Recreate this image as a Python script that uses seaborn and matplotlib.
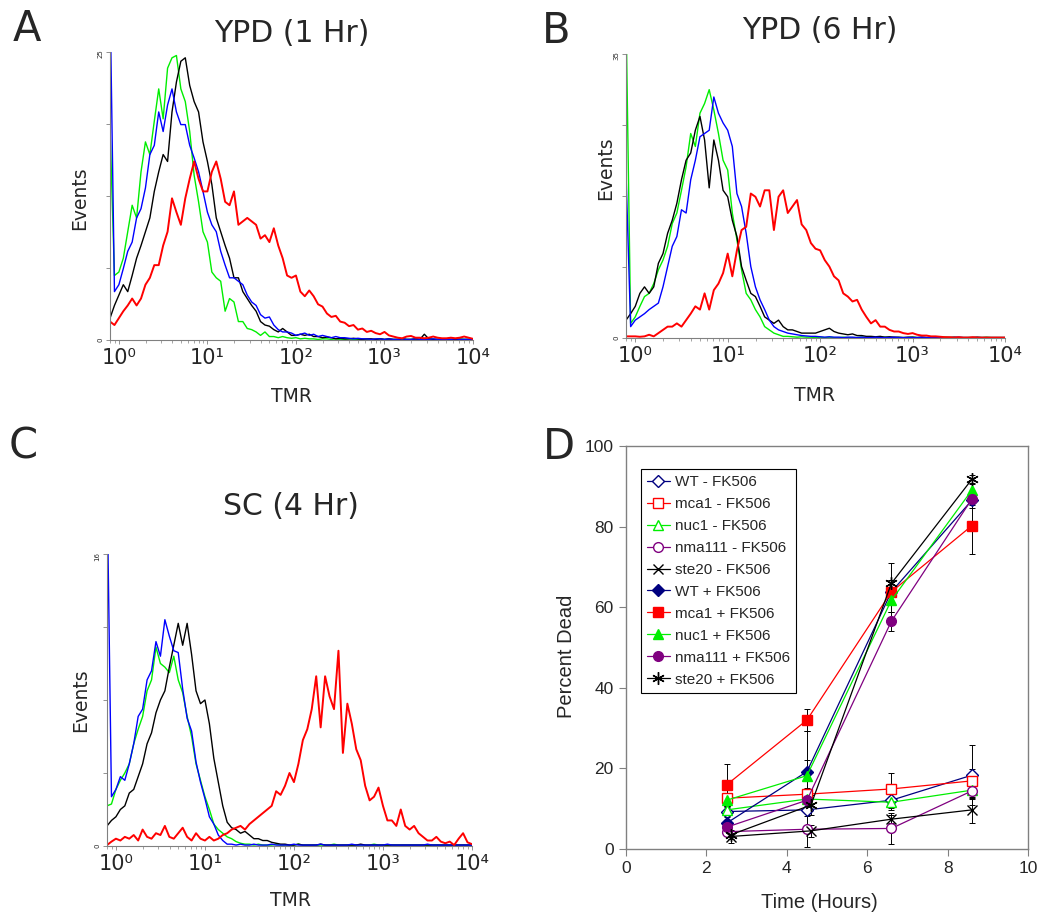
import matplotlib
matplotlib.use("Agg")
import matplotlib.pyplot as plt
import seaborn as sns

sns.set_style("white")
plt.rcParams["font.family"] = ["DejaVu Sans"]

# flow channels, log10(TMR) from -0.1 to 4.0 in 0.05 steps
tmr_log = [round(-0.1 + 0.05 * i, 2) for i in range(83)]
tmr = [10 ** v for v in tmr_log]

# ---- panel A: YPD (1 Hr) ----
a_green = [18.4, 5.6, 5.9, 7.1, 9.4, 11.7, 10.6, 14.6, 17.2, 16.1,
           19.0, 21.8, 19.2, 23.6, 24.5, 24.7, 21.8, 20.7, 18.1, 14.3,
           12.0, 9.4, 8.5, 5.9, 5.4, 5.1, 2.5, 3.6, 3.3, 1.6,
           1.6, 1.0, 0.9, 0.7, 0.4, 0.7, 0.3, 0.3, 0.2, 0.3,
           0.2, 0.15, 0.2, 0.1, 0.15, 0.1, 0.1, 0.05, 0.1, 0.1,
           0.05, 0.1, 0.05, 0.05, 0.1, 0.05, 0.05, 0.1, 0.05, 0.05,
           0.05, 0.1, 0.05, 0.05, 0.05, 0.05, 0.1, 0.05, 0.05, 0.05,
           0.05, 0.05, 0.1, 0.05, 0.05, 0.05, 0.05, 0.05, 0.05, 0.1,
           0.05, 0.05, 0.05]
a_blue = [30, 4.2, 4.8, 6.2, 7.7, 8.5, 10.6, 11.4, 13.2, 16.1,
          16.9, 19.8, 18.1, 20.4, 21.8, 19.8, 18.7, 18.7, 16.9, 15.8,
          14.6, 12.9, 11.1, 10.0, 9.4, 7.7, 6.5, 5.4, 5.4, 5.1,
          4.8, 3.9, 3.3, 3.0, 2.2, 1.9, 2.0, 1.3, 0.9, 0.7,
          0.7, 0.6, 0.4, 0.5, 0.6, 0.4, 0.5, 0.3, 0.4, 0.3,
          0.2, 0.3, 0.2, 0.2, 0.15, 0.1, 0.15, 0.1, 0.1, 0.05,
          0.1, 0.1, 0.05, 0.1, 0.05, 0.05, 0.1, 0.05, 0.05, 0.1,
          0.05, 0.05, 0.05, 0.1, 0.05, 0.05, 0.05, 0.05, 0.1, 0.05,
          0.05, 0.05, 0.05]
a_black = [1.9, 3.0, 3.9, 4.8, 4.2, 5.6, 7.1, 8.2, 9.4, 10.6,
           12.9, 14.6, 16.1, 15.5, 19.8, 22.4, 24.2, 24.5, 22.1, 20.7,
           19.8, 17.2, 15.5, 13.5, 10.6, 9.4, 8.2, 7.1, 5.4, 5.4,
           4.2, 3.6, 3.0, 2.5, 1.6, 1.3, 1.2, 0.9, 0.7, 1.0,
           0.7, 0.4, 0.4, 0.5, 0.4, 0.5, 0.3, 0.3, 0.2, 0.25,
           0.2, 0.1, 0.15, 0.1, 0.1, 0.15, 0.1, 0.05, 0.1, 0.1,
           0.05, 0.1, 0.05, 0.1, 0.05, 0.05, 0.1, 0.05, 0.05, 0.1,
           0.05, 0.5, 0.1, 0.05, 0.05, 0.05, 0.1, 0.05, 0.05, 0.05,
           0.05, 0.05, 0.05]
a_red = [1.6, 1.3, 1.9, 2.5, 3.0, 3.6, 3.0, 3.6, 4.8, 5.4,
         6.5, 6.5, 8.2, 9.4, 12.3, 11.1, 10.0, 12.3, 14.0, 15.5,
         14.0, 12.9, 12.9, 14.6, 15.5, 14.0, 12.0, 11.7, 12.9, 10.0,
         10.3, 10.6, 10.3, 10.0, 8.8, 9.1, 8.5, 9.7, 8.2, 7.1,
         5.6, 5.4, 5.6, 4.2, 3.8, 4.3, 3.8, 3.1, 2.9, 2.3,
         2.0, 2.1, 1.6, 1.5, 1.2, 1.3, 0.9, 1.0, 0.7, 0.8,
         0.6, 0.5, 0.7, 0.4, 0.3, 0.2, 0.15, 0.3, 0.35, 0.2,
         0.2, 0.15, 0.2, 0.3, 0.2, 0.15, 0.15, 0.2, 0.15, 0.2,
         0.3, 0.2, 0.1]

# ---- panel B: YPD (6 Hr) ----
b_green = [40, 1.8, 2.6, 3.9, 5.1, 5.5, 6.7, 8.4, 9.6, 11.3,
           14.1, 15.4, 18.2, 21.1, 25.2, 23.6, 27.7, 28.9, 30.6, 28.1,
           25.2, 21.9, 20.7, 15.4, 12.1, 8.4, 5.5, 4.7, 3.5, 2.6,
           1.4, 1.0, 0.6, 0.4, 0.2, 0.2, 0.15, 0.1, 0.15, 0.1,
           0.1, 0.05, 0.1, 0.05, 0.1, 0.05, 0.05, 0.1, 0.05, 0.05,
           0.05, 0.1, 0.05, 0.05, 0.05, 0.05, 0.1, 0.05, 0.05, 0.05,
           0.05, 0.05, 0.1, 0.05, 0.05, 0.05, 0.05, 0.05, 0.05, 0.1,
           0.05, 0.05, 0.05, 0.05, 0.05, 0.05, 0.05, 0.05, 0.1, 0.05,
           0.05, 0.05, 0.05]
b_blue = [20.3, 1.4, 2.2, 2.6, 3.0, 3.5, 3.9, 4.3, 6.3, 8.8,
          11.3, 12.5, 15.8, 15.4, 19.5, 21.9, 24.8, 25.2, 25.6, 29.7,
          27.7, 26.5, 25.6, 23.6, 17.8, 16.2, 12.9, 8.8, 6.3, 4.7,
          3.5, 2.2, 1.4, 1.0, 0.8, 0.6, 0.5, 0.4, 0.3, 0.25,
          0.2, 0.2, 0.15, 0.1, 0.15, 0.1, 0.1, 0.05, 0.1, 0.1,
          0.05, 0.1, 0.05, 0.05, 0.1, 0.05, 0.05, 0.05, 0.1, 0.05,
          0.05, 0.05, 0.05, 0.05, 0.1, 0.05, 0.05, 0.05, 0.05, 0.05,
          0.05, 0.05, 0.1, 0.05, 0.05, 0.05, 0.05, 0.05, 0.05, 0.05,
          0.05, 0.05, 0.05]
b_black = [2.2, 3.0, 3.9, 5.5, 6.3, 5.5, 6.3, 9.2, 10.4, 12.9,
           14.5, 16.6, 19.5, 21.9, 22.8, 25.6, 27.3, 24.4, 18.5, 24.4,
           21.9, 18.2, 17.4, 14.5, 12.5, 8.8, 7.1, 5.5, 5.1, 3.9,
           2.6, 2.2, 1.8, 2.2, 1.4, 1.0, 1.0, 0.8, 0.6, 0.6,
           0.6, 0.6, 0.8, 1.0, 1.2, 0.8, 0.6, 0.5, 0.4, 0.5,
           0.3, 0.3, 0.2, 0.2, 0.15, 0.2, 0.1, 0.15, 0.1, 0.1,
           0.05, 0.1, 0.1, 0.05, 0.1, 0.05, 0.05, 0.1, 0.05, 0.05,
           0.05, 0.1, 0.05, 0.05, 0.05, 0.05, 0.1, 0.05, 0.05, 0.05,
           0.05, 0.05, 0.05]
b_red = [0.2, 0.2, 0.2, 0.15, 0.2, 0.4, 0.2, 0.6, 1.0, 1.4,
         1.4, 1.8, 1.4, 2.2, 3.0, 3.9, 3.5, 5.5, 3.5, 5.9,
         6.7, 8.0, 10.4, 7.6, 10.8, 13.3, 13.7, 17.8, 17.4, 16.2,
         18.2, 18.2, 13.3, 17.4, 18.2, 15.4, 16.2, 17.0, 14.0, 13.3,
         11.7, 11.0, 10.8, 9.6, 8.8, 7.6, 7.1, 5.5, 5.1, 4.5,
         4.7, 3.5, 2.6, 1.8, 2.2, 1.4, 1.4, 1.0, 0.8, 0.8,
         0.6, 0.5, 0.6, 0.4, 0.3, 0.3, 0.2, 0.2, 0.15, 0.1,
         0.1, 0.05, 0.1, 0.05, 0.05, 0.1, 0.05, 0.05, 0.05, 0.05,
         0.05, 0.05, 0.05]

# ---- panel C: SC (4 Hr) ----
c_blue = [20, 2.7, 3.1, 3.8, 3.6, 4.5, 5.6, 7.1, 7.5, 9.1,
          9.6, 11.2, 10.4, 12.4, 11.5, 10.7, 10.6, 8.6, 7.0, 6.3,
          4.6, 3.5, 2.6, 1.6, 1.2, 0.6, 0.3, 0.1, 0.1, 0.05,
          0.1, 0.05, 0.05, 0.1, 0.05, 0.05, 0.05, 0.1, 0.05, 0.05,
          0.05, 0.05, 0.1, 0.05, 0.05, 0.05, 0.05, 0.05, 0.1, 0.05,
          0.05, 0.05, 0.05, 0.05, 0.05, 0.1, 0.05, 0.05, 0.05, 0.05,
          0.05, 0.05, 0.05, 0.1, 0.05, 0.05, 0.05, 0.05, 0.05, 0.05,
          0.05, 0.05, 0.1, 0.05, 0.05, 0.05, 0.05, 0.05, 0.05, 0.05,
          0.05, 0.05, 0.05]
c_green = [2.2, 2.3, 3.1, 3.6, 4.0, 4.5, 5.6, 6.4, 7.1, 8.5,
           9.1, 10.9, 10.0, 9.8, 9.5, 10.4, 9.1, 8.4, 7.1, 6.0,
           4.5, 3.6, 2.7, 2.0, 1.2, 0.9, 0.7, 0.5, 0.4, 0.24,
           0.15, 0.1, 0.1, 0.05, 0.1, 0.05, 0.05, 0.05, 0.1, 0.05,
           0.05, 0.05, 0.05, 0.1, 0.05, 0.05, 0.05, 0.05, 0.05, 0.05,
           0.05, 0.1, 0.05, 0.05, 0.05, 0.05, 0.05, 0.05, 0.05, 0.05,
           0.1, 0.05, 0.05, 0.05, 0.05, 0.05, 0.05, 0.05, 0.05, 0.05,
           0.05, 0.05, 0.05, 0.05, 0.05, 0.05, 0.05, 0.05, 0.05, 0.05,
           0.05, 0.05, 0.05]
c_black = [1.1, 1.4, 1.6, 2.0, 2.2, 2.9, 3.1, 3.8, 4.5, 5.6,
           6.2, 7.3, 8.0, 8.5, 9.8, 11.0, 12.2, 11.0, 12.2, 10.5,
           8.5, 7.8, 8.0, 6.7, 4.8, 3.5, 2.2, 1.3, 1.0, 0.9,
           0.7, 0.8, 0.6, 0.4, 0.4, 0.3, 0.3, 0.2, 0.15, 0.1,
           0.1, 0.05, 0.05, 0.1, 0.05, 0.05, 0.05, 0.05, 0.1, 0.05,
           0.05, 0.05, 0.05, 0.05, 0.05, 0.05, 0.05, 0.1, 0.05, 0.05,
           0.05, 0.05, 0.05, 0.05, 0.05, 0.05, 0.05, 0.05, 0.05, 0.05,
           0.05, 0.05, 0.05, 0.05, 0.05, 0.05, 0.05, 0.05, 0.05, 0.05,
           0.05, 0.05, 0.05]
c_red = [0.05, 0.24, 0.4, 0.3, 0.5, 0.4, 0.6, 0.3, 0.9, 0.5,
         0.4, 0.7, 0.6, 1.1, 0.5, 0.4, 0.7, 1.0, 0.5, 0.3,
         0.7, 0.4, 0.3, 0.5, 0.3, 0.4, 0.6, 0.7, 0.9, 1.0,
         1.1, 0.9, 1.2, 1.4, 1.6, 1.8, 2.0, 2.2, 3.0, 2.8,
         3.3, 4.0, 3.5, 4.5, 5.8, 6.4, 7.5, 9.3, 6.5, 9.3,
         8.2, 7.5, 10.7, 5.1, 7.8, 6.7, 5.3, 4.7, 3.3, 2.5,
         2.7, 3.2, 2.2, 1.4, 1.4, 1.1, 2.0, 1.1, 0.9, 1.1,
         0.7, 0.5, 0.3, 0.3, 0.5, 0.24, 0.15, 0.24, 0.05, 0.4,
         0.7, 0.2, 0.1]

# ---- panel D: percent dead over time ----
time = [2.5, 4.5, 6.6, 8.6]
time_ste20 = [2.6, 4.6, 6.6, 8.6]
wt_minus = [9.3, 9.7, 12.1, 18.3]
mca1_minus = [12.6, 13.6, 14.9, 16.9]
nuc1_minus = [9.7, 12.4, 11.6, 14.6]
nma111_minus = [4.3, 4.9, 5.1, 14.4]
ste20_minus = [3.1, 4.5, 7.4, 9.7]
wt_plus = [6.4, 19.2, 63.8, 86.5]
mca1_plus = [15.9, 32.0, 63.8, 80.2]
nuc1_plus = [12.1, 18.2, 61.7, 89.0]
nma111_plus = [5.4, 12.1, 56.5, 86.8]
ste20_plus = [3.5, 10.9, 65.9, 91.7]
wt_minus_err = [1.0, 1.5, 2.0, 7.5]
mca1_minus_err = [1.0, 1.5, 4.0, 3.0]
nuc1_minus_err = [1.0, 1.0, 2.0, 2.0]
nma111_minus_err = [1.0, 4.3, 3.9, 2.0]
ste20_minus_err = [1.5, 1.5, 1.0, 3.3]
wt_plus_err = [1.5, 10.0, 3.0, 2.0]
mca1_plus_err = [5.2, 2.7, 3.0, 7.0]
nuc1_plus_err = [1.5, 4.0, 3.0, 1.5]
nma111_plus_err = [1.0, 2.0, 2.3, 1.5]
ste20_plus_err = [1.0, 2.5, 5.0, 1.0]

RED, GREEN, BLUE = "#ff0000", "#00ee00", "#0000ff"
NAVY, PURPLE = "#000080", "#800080"
GREY = "#808080"

fig = plt.figure(figsize=(10.38, 9.13), dpi=100)


def histogram_panel(rect, curves, ymax, xlim_log):
    ax = fig.add_axes(rect)
    for counts, color, lw in curves:
        sns.lineplot(x=tmr, y=counts, ax=ax, color=color, linewidth=lw,
                     estimator=None, sort=False)
    ax.set_xscale("log")
    ax.set_xlim(10 ** xlim_log[0], 10 ** xlim_log[1])
    ax.set_ylim(0, ymax)
    ax.set_xticks([1, 10, 100, 1000, 10000])
    ax.set_xticklabels(["10\u2070", "10\u00b9", "10\u00b2", "10\u00b3", "10\u2074"])
    ax.set_yticks([0, ymax / 4, ymax / 2, 3 * ymax / 4, ymax])
    ax.set_yticklabels(["0", "", "", "", str(ymax)])
    ax.tick_params(axis="x", which="major", bottom=True, direction="out", length=3,
                   width=0.6, color=GREY, labelsize=15, pad=3)
    ax.tick_params(axis="x", which="minor", bottom=True, direction="out", length=2,
                   width=0.5, color=GREY)
    ax.tick_params(axis="y", left=True, direction="out", length=3, width=0.6,
                   color=GREY, labelsize=5, labelrotation=90, pad=2)
    for s in ["top", "right"]:
        ax.spines[s].set_visible(False)
    for s in ["left", "bottom"]:
        ax.spines[s].set_color(GREY)
        ax.spines[s].set_linewidth(0.8)
    ax.set_xlabel("")
    ax.set_ylabel("")
    return ax


histogram_panel([0.106, 0.6276, 0.3497, 0.3154],
                [(a_green, GREEN, 1.0), (a_black, "black", 1.0),
                 (a_blue, BLUE, 1.0), (a_red, RED, 1.4)], 25, (-0.1, 3.92))
histogram_panel([0.6031, 0.6298, 0.3651, 0.3111],
                [(b_green, GREEN, 1.0), (b_black, "black", 1.0),
                 (b_blue, BLUE, 1.0), (b_red, RED, 1.4)], 35, (-0.1, 4.0))
histogram_panel([0.1031, 0.0734, 0.3516, 0.3198],
                [(c_green, GREEN, 1.0), (c_black, "black", 1.0),
                 (c_blue, BLUE, 1.0), (c_red, RED, 1.4)], 16, (-0.1, 3.92))

# panel letters, titles and axis labels
for letter, x, y in [("A", 0.026, 0.968), ("B", 0.5357, 0.966),
                     ("C", 0.022, 0.5115), ("D", 0.5385, 0.5104)]:
    fig.text(x, y, letter, fontsize=30, ha="center", va="center")
for title, x, y in [("YPD (1 Hr)", 0.281, 0.9628), ("YPD (6 Hr)", 0.790, 0.967),
                    ("SC (4 Hr)", 0.280, 0.4447)]:
    fig.text(x, y, title, fontsize=21.5, ha="center", va="center")
for x, y in [(0.0771, 0.7831), (0.583, 0.816), (0.078, 0.2333)]:
    fig.text(x, y, "Events", fontsize=13.5, rotation=90, ha="center", va="center")
for x, y in [(0.281, 0.566), (0.785, 0.567), (0.280, 0.0142)]:
    fig.text(x, y, "TMR", fontsize=13.5, ha="center", va="center")

# ---- panel D ----
axd = fig.add_axes([0.6031, 0.0701, 0.3873, 0.4414])
series_d = [
    ("WT - FK506", time, wt_minus, wt_minus_err, NAVY, "D", False, 6),
    ("mca1 - FK506", time, mca1_minus, mca1_minus_err, RED, "s", False, 6.5),
    ("nuc1 - FK506", time, nuc1_minus, nuc1_minus_err, GREEN, "^", False, 7),
    ("nma111 - FK506", time, nma111_minus, nma111_minus_err, PURPLE, "o", False, 7),
    ("ste20 - FK506", time_ste20, ste20_minus, ste20_minus_err, "black", "x", False, 7),
    ("WT + FK506", time, wt_plus, wt_plus_err, NAVY, "D", True, 6),
    ("mca1 + FK506", time, mca1_plus, mca1_plus_err, RED, "s", True, 6.5),
    ("nuc1 + FK506", time, nuc1_plus, nuc1_plus_err, GREEN, "^", True, 7),
    ("nma111 + FK506", time, nma111_plus, nma111_plus_err, PURPLE, "o", True, 7),
    ("ste20 + FK506", time_ste20, ste20_plus, ste20_plus_err, "black", (6, 2, 0), True, 9),
]
for label, t, y, err, color, marker, filled, ms in series_d:
    axd.errorbar(t, y, yerr=err, fmt="none", ecolor="black", elinewidth=0.7,
                 capsize=2, capthick=0.7, zorder=1)
    sns.lineplot(x=t, y=y, ax=axd, color=color, linewidth=0.9, marker=marker,
                 markersize=ms, markerfacecolor=color if filled else "white",
                 markeredgecolor=color, markeredgewidth=1.0, label=label,
                 estimator=None, sort=False, zorder=3)

axd.set_xlim(0, 10)
axd.set_ylim(0, 100)
axd.set_xticks([0, 2, 4, 6, 8, 10])
axd.set_yticks([0, 20, 40, 60, 80, 100])
axd.tick_params(bottom=True, left=True, direction="out", length=5, width=0.8,
                color=GREY, labelsize=12.5, pad=4)
for lab in axd.get_xticklabels() + axd.get_yticklabels():
    lab.set_fontfamily("Liberation Sans")
for s in axd.spines.values():
    s.set_visible(True)
    s.set_color(GREY)
    s.set_linewidth(1.0)
axd.set_xlabel("")
axd.set_ylabel("")
fig.text(0.5462, 0.2815, "Percent Dead", fontsize=14.5, rotation=90,
         ha="center", va="center", family="Liberation Sans")
fig.text(0.7895, 0.0120, "Time (Hours)", fontsize=14.5, ha="center",
         va="center", family="Liberation Sans")

handles, labels = axd.get_legend_handles_labels()
leg = axd.legend(handles, labels, loc="upper left", bbox_to_anchor=(0.037, 0.943),
                 borderaxespad=0, frameon=True, fancybox=False, framealpha=1,
                 edgecolor="black", handlelength=1.5, handletextpad=0.3,
                 borderpad=0.4, labelspacing=0.52,
                 prop={"family": "Liberation Sans", "size": 11})
leg.get_frame().set_linewidth(0.8)

fig.savefig("out.png", dpi=100)
